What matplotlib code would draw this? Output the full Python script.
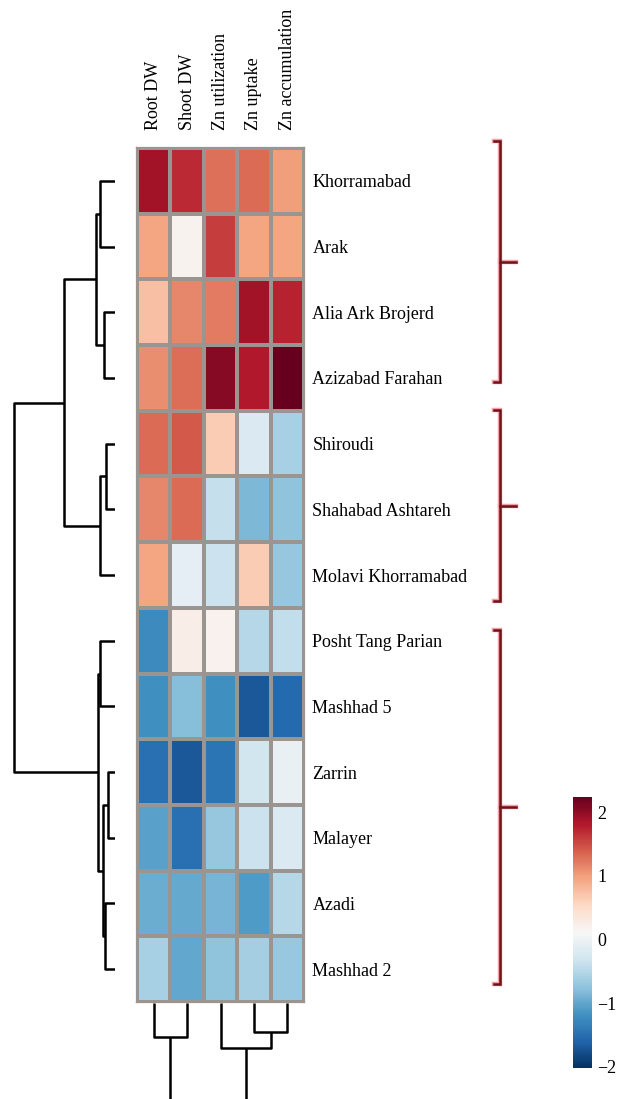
import numpy as np
import matplotlib.pyplot as plt
from matplotlib.colors import Normalize
from matplotlib.cm import ScalarMappable

plt.rcParams['font.family'] = ['Liberation Serif', 'DejaVu Serif']

genotypes = ['Khorramabad', 'Arak', 'Alia Ark Brojerd', 'Azizabad Farahan',
             'Shiroudi', 'Shahabad Ashtareh', 'Molavi Khorramabad',
             'Posht Tang Parian', 'Mashhad 5', 'Zarrin', 'Malayer',
             'Azadi', 'Mashhad 2']
traits = ['Root DW', 'Shoot DW', 'Zn utilization', 'Zn uptake',
          'Zn accumulation']

# scaled (z-score) values, rows in dendrogram order
zscores = np.array([
    [1.90, 1.70, 1.28, 1.32, 1.00],
    [0.95, 0.18, 1.58, 0.95, 0.95],
    [0.75, 1.15, 1.22, 1.90, 1.75],
    [1.10, 1.30, 2.05, 1.82, 2.24],
    [1.32, 1.42, 0.65, -0.20, -0.60],
    [1.15, 1.32, -0.40, -0.85, -0.75],
    [0.95, -0.10, -0.35, 0.65, -0.72],
    [-1.25, 0.25, 0.20, -0.50, -0.42],
    [-1.20, -0.80, -1.20, -1.70, -1.55],
    [-1.50, -1.70, -1.45, -0.30, -0.05],
    [-1.05, -1.50, -0.72, -0.35, -0.20],
    [-0.95, -0.98, -0.88, -1.10, -0.50],
    [-0.60, -1.00, -0.75, -0.62, -0.70],
])

# linkage: (child a, child b, merge height); ids >= n are earlier merges
row_links = [
    (0, 1, 15), (2, 3, 11), (13, 14, 19),
    (4, 5, 9), (16, 6, 15), (15, 17, 51),
    (7, 8, 15), (9, 10, 7.3), (11, 12, 10), (20, 21, 11.7),
    (19, 22, 16.5), (18, 23, 101),
]
col_links = [(3, 4, 29), (0, 1, 34), (2, 5, 45), (6, 7, 130)]

cbar_ticks = [-2, -1, 0, 1, 2]
vmin, vmax = -2.02, 2.24

W, H = 619, 1099
fig = plt.figure(figsize=(W / 100, H / 100), dpi=100)


def px_axes(x0, y0, x1, y1):
    return fig.add_axes([x0 / W, 1 - y1 / H, (x1 - x0) / W, (y1 - y0) / H])


def dendro_segments(links, n):
    pos = {i: i + 0.5 for i in range(n)}
    hgt = {i: 0.0 for i in range(n)}
    segs = []
    for k, (a, b, h) in enumerate(links):
        segs.append(([hgt[a], h, h, hgt[b]], [pos[a], pos[a], pos[b], pos[b]]))
        pos[n + k] = (pos[a] + pos[b]) / 2
        hgt[n + k] = h
    return segs


hm_x0, hm_y0, hm_x1, hm_y1 = 137, 148, 304, 1002
nr, nc = zscores.shape
cmap = plt.get_cmap('RdBu_r')
norm = Normalize(vmin, vmax)

# heatmap
ax = px_axes(hm_x0, hm_y0, hm_x1, hm_y1)
ax.pcolormesh(np.arange(nc + 1), np.arange(nr + 1), zscores, cmap=cmap,
              norm=norm, edgecolors='#9a9590', linewidth=1.6)
ax.set_xlim(0, nc)
ax.set_ylim(nr, 0)
ax.set_xticks(np.arange(nc) + 0.5)
ax.set_xticklabels(traits, rotation=90, fontsize=13)
ax.xaxis.tick_top()
ax.set_yticks(np.arange(nr) + 0.5)
ax.set_yticklabels(genotypes, fontsize=13)
ax.yaxis.tick_right()
ax.tick_params(length=0, pad=6)
ax.tick_params(axis='x', pad=13)
for s in ax.spines.values():
    s.set_color('#9a9590')
    s.set_linewidth(1.6)

# row dendrogram
axr = px_axes(0, hm_y0, 115, hm_y1)
for xs, ys in dendro_segments(row_links, nr):
    axr.plot(xs, ys, color='black', lw=1.8, solid_capstyle='butt')
axr.set_xlim(115, 0)
axr.set_ylim(nr, 0)
axr.axis('off')

# column dendrogram (root falls below the figure edge)
axc = px_axes(hm_x0, hm_y1 + 1, hm_x1, H)
for ys, xs in dendro_segments(col_links, nc):
    axc.plot(xs, ys, color='black', lw=1.8, solid_capstyle='butt')
axc.set_xlim(0, nc)
axc.set_ylim(H - hm_y1 - 1, 0)
axc.axis('off')

# cluster brackets
ov = fig.add_axes([0, 0, 1, 1], facecolor='none')
ov.set_xlim(0, W)
ov.set_ylim(H, 0)
ov.axis('off')
bx = 500
for top, bot in [(141, 382), (410, 601), (630, 984)]:
    mid = (top + bot) / 2
    for lw, col in [(3.2, '#f2a0a8'), (1.8, '#6e1419')]:
        ov.plot([bx - 6, bx, bx, bx - 6], [top, top, bot, bot], color=col,
                lw=lw, solid_joinstyle='miter')
        ov.plot([bx, bx + 16], [mid, mid], color=col, lw=lw)

# colorbar
cax = px_axes(573, 797, 592, 1068)
cb = fig.colorbar(ScalarMappable(norm=norm, cmap=cmap), cax=cax,
                  ticks=cbar_ticks)
cb.ax.set_yticklabels(['\u2212' + str(-t) if t < 0 else str(t)
                       for t in cbar_ticks], fontsize=13)
cb.ax.tick_params(length=0, pad=4)
cb.outline.set_visible(False)

fig.savefig('out.png', dpi=100)
